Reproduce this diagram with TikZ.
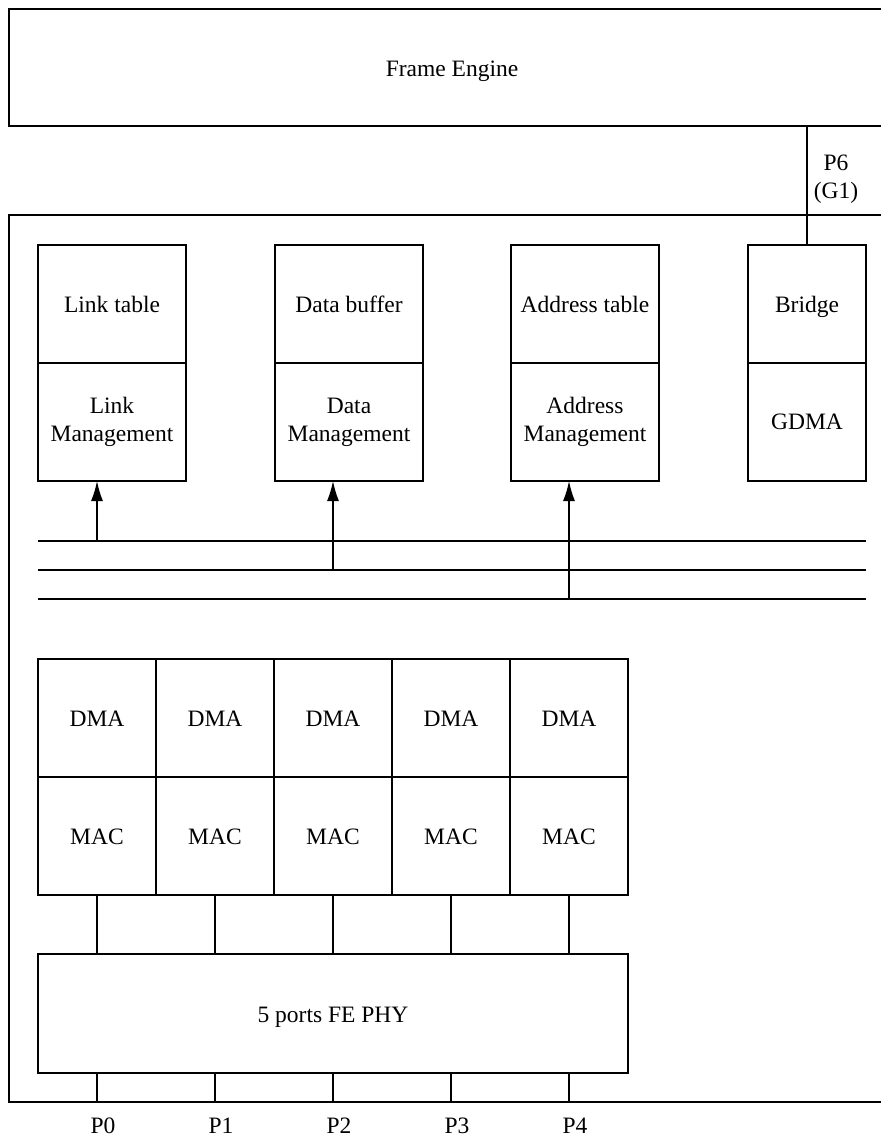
\documentclass[tikz,border=0pt]{standalone}
\usepackage{fontspec}
\setmainfont{Liberation Serif}
\usetikzlibrary{arrows.meta}
\newcommand{\blkfont}{\fontsize{23.5}{28}\selectfont}
\tikzset{
  blk/.style={draw, line width=1.4pt, inner sep=0pt, outer sep=0pt, align=center, font=\blkfont},
  sgl/.style={text height=19pt, text depth=2pt},
  lnk/.style={line width=1.4pt},
  busarrow/.style={line width=1.4pt, -{Latex[length=20pt,width=12pt]}},
  lbl/.style={inner sep=0pt, font=\blkfont}
}
\begin{document}
\begin{tikzpicture}[x=1pt, y=-1pt]
    \clip (0,0) rectangle (881,1144);
    \fill[white] (0,0) rectangle (881,1144);
    % frame engine and switch outline
    \node[blk, sgl, minimum width=886pt, minimum height=117pt] (fe) at (452,67.5) {Frame Engine};
    \node[blk, minimum width=886pt, minimum height=887pt] (sw) at (452,658.5) {};
    % table / management blocks
    \foreach \cx/\w/\nm/\ttxt/\mtxt in {112/148/l/Link table/{Link\\Management},
        349/148/d/Data buffer/{Data\\Management},
        585/148/a/Address table/{Address\\Management},
        807/118/b/Bridge/GDMA} {
        \node[blk, sgl, minimum width=\w pt, minimum height=118pt] (\nm t) at (\cx,304) {\ttxt};
        \node[blk, minimum width=\w pt, minimum height=118pt] (\nm m) at (\cx,422) {\mtxt};
    }
    \draw[lnk] (fe.south -| bt.north) -- (bt.north);
    \node[lbl] (p6) at (836,163) {P6};
    \node[lbl] (g1) at (836,193) {(G1)};
    % bus
    \foreach \i/\yy in {1/541,2/570,3/599} {
        \coordinate (busl\i) at (38,\yy);
        \coordinate (busr\i) at (866,\yy);
        \draw[lnk] (busl\i) -- (busr\i);
    }
    \foreach \i/\nm/\xx in {1/l/59,2/d/295,3/a/531} {
        \path (busl\i) ++(\xx,0) coordinate (tap\i);
        \draw[busarrow] (tap\i) -- (tap\i |- \nm m.south);
    }
    % ports
    \node[blk, sgl, minimum width=590pt, minimum height=119pt] (phy) at (333,1013.5) {5 ports FE PHY};
    \foreach \i in {0,...,4} {
        \node[blk, sgl, minimum width=118pt, minimum height=118pt] (dma\i) at ({97+118*\i},718) {DMA};
        \node[blk, sgl, minimum width=118pt, minimum height=118pt] (mac\i) at ({97+118*\i},836) {MAC};
        \draw[lnk] (mac\i.south) -- (mac\i.south |- phy.north);
        \draw[lnk] (mac\i.south |- phy.south) -- (mac\i.south |- sw.south);
        \node[lbl] (p\i) at ({103+118*\i},1126) {P\i};
    }
\end{tikzpicture}
\end{document}
